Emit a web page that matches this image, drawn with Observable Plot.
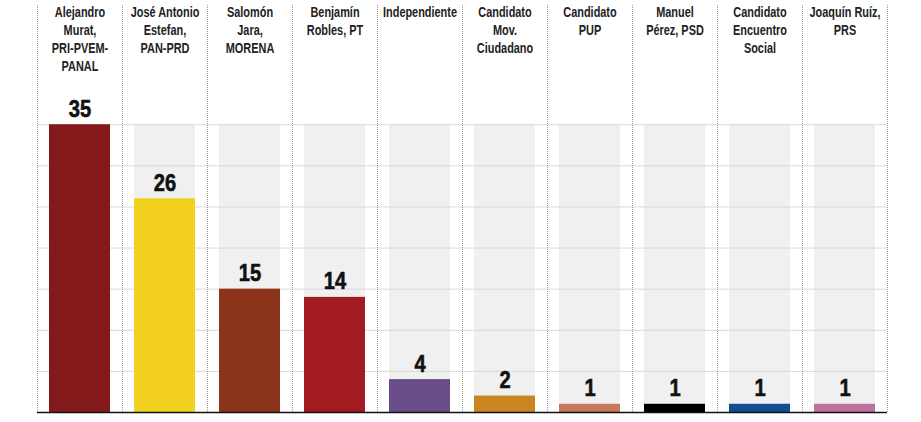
<!DOCTYPE html>
<html>
<head>
<meta charset="utf-8">
<script src="https://cdn.jsdelivr.net/npm/d3@7"></script>
<script src="https://cdn.jsdelivr.net/npm/@observablehq/plot@0.6"></script>
<style>
  html, body { margin: 0; padding: 0; background: #fff; }
</style>
</head>
<body>
<div id="chart"></div>
<script>
const candidates = [
  "Alejandro\nMurat,\nPRI-PVEM-\nPANAL",
  "José Antonio\nEstefan,\nPAN-PRD",
  "Salomón\nJara,\nMORENA",
  "Benjamín\nRobles, PT",
  "Independiente",
  "Candidato\nMov.\nCiudadano",
  "Candidato\nPUP",
  "Manuel\nPérez, PSD",
  "Candidato\nEncuentro\nSocial",
  "Joaquín Ruíz,\nPRS"
];
const values = [35, 26, 15, 14, 4, 2, 1, 1, 1, 1];
const colors = ["#84191c", "#f2d21f", "#8b341b", "#a21b20", "#6a4c89",
                "#cc8420", "#c7785a", "#000000", "#0f4e8f", "#be72a0"];
const gridTicks = [5, 10, 15, 20, 25, 30, 35];

const data = candidates.map((c, i) => ({name: c, value: values[i], color: colors[i]}));
const maxV = d3.max(values);
const yTop = 49.5;

const chart = Plot.plot({
  width: 921,
  height: 422,
  marginLeft: 37,
  marginRight: 34,
  marginTop: 5,
  marginBottom: 10,
  style: {fontFamily: "'Liberation Sans', Arial, sans-serif", background: "#fff"},
  x: {domain: candidates, padding: 0, axis: null},
  y: {domain: [0, yTop], axis: null},
  marks: [
    // grey background columns
    Plot.barY(data, {x: "name", y: () => maxV, fill: "#f0f0f0", insetLeft: 12, insetRight: 12}),
    // horizontal grid
    Plot.ruleY(gridTicks, {stroke: "#d9d9d9", strokeWidth: 1}),
    // vertical dotted separators
    Plot.ruleX(data, {x: "name", y1: 0, y2: yTop, dx: -42.5, stroke: "#9a9a9a", strokeWidth: 1, strokeDasharray: "1,1"}),
    Plot.ruleX(data.slice(-1), {x: "name", y1: 0, y2: yTop, dx: 42.5, stroke: "#9a9a9a", strokeWidth: 1, strokeDasharray: "1,1"}),
    // bars
    Plot.barY(data, {x: "name", y: "value", fill: "color", insetLeft: 12, insetRight: 12}),
    // value labels
    Plot.text(data, {x: "name", y: "value", text: d => String(d.value), lineAnchor: "bottom", dy: -8,
      fontSize: 24, fontWeight: "bold", fill: "#111", stroke: "#111", strokeWidth: 0.6}),
    // candidate labels
    Plot.text(data, {x: "name", text: "name", frameAnchor: "top", lineAnchor: "top", lineHeight: 1.29,
      fontSize: 14, fontWeight: "bold", fill: "#222", dy: -1}),
    // baseline
    Plot.ruleY([0], {stroke: "#111", strokeWidth: 1.5})
  ]
});

// condense text horizontally (the original uses a condensed typeface)
chart.querySelectorAll('g[font-size="14"] > text').forEach(t => {
  const tr = t.getAttribute("transform");
  if (tr) t.setAttribute("transform", tr + " scale(0.78,1)");
});
chart.querySelectorAll('g[font-size="24"] > text').forEach(t => {
  const tr = t.getAttribute("transform");
  if (tr) t.setAttribute("transform", tr + " scale(0.84,1)");
});
document.getElementById("chart").appendChild(chart);
</script>
</body>
</html>
